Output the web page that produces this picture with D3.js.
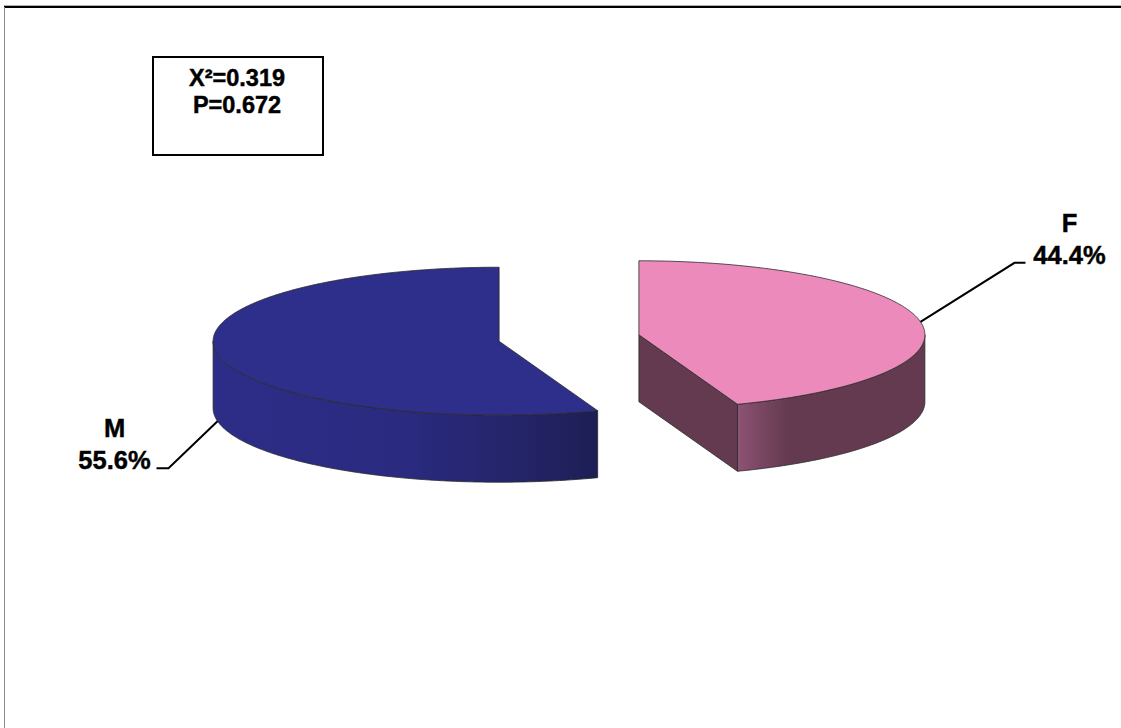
<!DOCTYPE html>
<html>
<head>
<meta charset="utf-8">
<script src="https://cdn.jsdelivr.net/npm/d3@7/dist/d3.min.js"></script>
<style>
  html, body { margin: 0; padding: 0; background: #fff; }
  svg { display: block; }
  text { font-family: Arial, "Liberation Sans", Helvetica, sans-serif; font-weight: bold; fill: #000;
         stroke: #000; stroke-width: 0.45px; }
</style>
</head>
<body>
<svg id="chart" width="1121" height="728"></svg>
<script>
// Sex distribution (percent)
const categories = ["F", "M"];
const values = [44.4, 55.6];
const statLines = ["X\u00B2=0.319", "P=0.672"];

const W = 1121, H = 728;
const svg = d3.select("#chart");

// Frame lines
svg.append("line").attr("x1", 4).attr("x2", W).attr("y1", 5.5).attr("y2", 5.5)
  .attr("stroke", "#b0b0b0").attr("stroke-width", 1);
svg.append("line").attr("x1", 4).attr("x2", W).attr("y1", 7).attr("y2", 7)
  .attr("stroke", "#000").attr("stroke-width", 1.8);
svg.append("line").attr("x1", 4.5).attr("x2", 4.5).attr("y1", 7).attr("y2", H)
  .attr("stroke", "#8c8c8c").attr("stroke-width", 1);

// 3D pie geometry
const cx = 569, cy = 338;
const rx = 286, ry = 74;
const k = ry / rx;
const depth = 67;
const explode = 71;

const topColors = { F: "#ec8bbb", M: "#2e2e8b" };
const cutColors = { F: "#633a4f", M: "#25256e" };
const sideStops = {
  F: [[0, "#8d5373"], [0.12, "#7a4763"], [0.28, "#633a4f"], [1, "#633a4f"]],
  M: [[0, "#2d2d88"], [0.5, "#2a2a80"], [0.8, "#242468"], [1, "#1e1e55"]]
};

const pie = d3.pie().sort(null).startAngle(0).endAngle(2 * Math.PI);
const arcs = pie(values).map((d, i) => ({ ...d, key: categories[i] }));

const line = d3.line();
const defs = svg.append("defs");

function pt(c, a, dy = 0) {
  return [c[0] + rx * Math.sin(a), c[1] - ry * Math.cos(a) + dy];
}
function sampleAngles(a0, a1) {
  const n = Math.max(2, Math.ceil(Math.abs(a1 - a0) / 0.01));
  return d3.range(n + 1).map(j => a0 + (a1 - a0) * j / n);
}

const stroke = "#2a2a2a";
const sw = 0.8;

arcs.forEach(d => {
  const mid = (d.startAngle + d.endAngle) / 2;
  const c = [cx + explode * Math.sin(mid), cy - explode * k * Math.cos(mid)];
  const g = svg.append("g").attr("class", "slice-" + d.key);

  // Cut faces along the radii that face the viewer
  [[d.startAngle, -Math.sin(d.startAngle)], [d.endAngle, Math.sin(d.endAngle)]].forEach(([a, facing]) => {
    if (facing > 1e-3) {
      const r0 = pt(c, a), r1 = pt(c, a, depth);
      g.append("path")
        .attr("d", line([c, r0, r1, [c[0], c[1] + depth]]) + "Z")
        .attr("fill", cutColors[d.key]).attr("stroke", stroke).attr("stroke-width", sw)
        .attr("stroke-linejoin", "round");
    }
  });

  // Outer wall: the part of the rim on the front half
  const s0 = Math.max(d.startAngle, Math.PI / 2);
  const s1 = Math.min(d.endAngle, 3 * Math.PI / 2);
  if (s1 > s0) {
    const angs = sampleAngles(s0, s1);
    const topRim = angs.map(a => pt(c, a));
    const botRim = angs.slice().reverse().map(a => pt(c, a, depth));
    const xs = topRim.map(p => p[0]);
    const gid = "side-" + d.key;
    const grad = defs.append("linearGradient").attr("id", gid)
      .attr("gradientUnits", "userSpaceOnUse")
      .attr("x1", d3.min(xs)).attr("x2", d3.max(xs)).attr("y1", 0).attr("y2", 0);
    sideStops[d.key].forEach(([o, col]) => grad.append("stop").attr("offset", o).attr("stop-color", col));
    g.append("path")
      .attr("d", line(topRim.concat(botRim)) + "Z")
      .attr("fill", `url(#${gid})`).attr("stroke", stroke).attr("stroke-width", sw)
      .attr("stroke-linejoin", "round");
  }

  // Top face
  const rim = sampleAngles(d.startAngle, d.endAngle).map(a => pt(c, a));
  g.append("path")
    .attr("d", line([c].concat(rim)) + "Z")
    .attr("fill", topColors[d.key]).attr("stroke", stroke).attr("stroke-width", sw)
    .attr("stroke-linejoin", "round");

  d.center = c;
  d.mid = mid;
});

// Labels with leader lines
const fmt = v => d3.format(".1f")(v) + "%";
const labelLayout = {
  F: { onBottom: false, elbow: [94, -59], tail: 11, textDx: 44 },
  M: { onBottom: true, elbow: [-49, 47], tail: -12, textDx: -42 }
};

arcs.forEach(d => {
  const L = labelLayout[d.key];
  const start = pt(d.center, d.mid, L.onBottom ? depth : 0);
  const elbow = [start[0] + L.elbow[0], start[1] + L.elbow[1]];
  const end = [elbow[0] + L.tail, elbow[1]];
  svg.append("path")
    .attr("d", line([start, elbow, end]))
    .attr("fill", "none").attr("stroke", "#000").attr("stroke-width", 2);

  const tx = end[0] + L.textDx;
  const t = svg.append("text").attr("text-anchor", "middle").style("font-size", "25.5px");
  t.append("tspan").attr("x", tx).attr("y", end[1] - 31).text(d.key);
  t.append("tspan").attr("x", tx).attr("y", end[1] + 1).text(fmt(d.data));
});

// Statistics box
svg.append("rect").attr("x", 153).attr("y", 57).attr("width", 170).attr("height", 98)
  .attr("fill", "#fff").attr("stroke", "#000").attr("stroke-width", 2);
svg.append("g").selectAll("text").data(statLines).join("text")
  .attr("x", 237).attr("y", (s, i) => 86 + i * 27)
  .attr("text-anchor", "middle").style("font-size", "23.5px")
  .text(s => s);
</script>
</body>
</html>
